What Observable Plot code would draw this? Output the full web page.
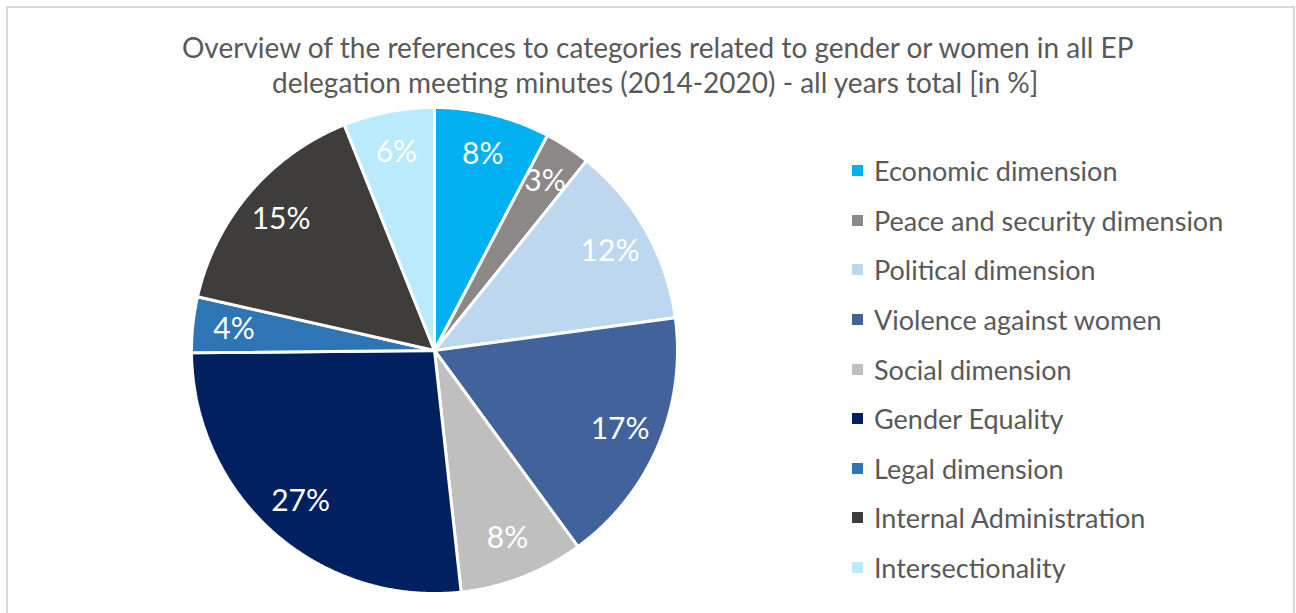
<!DOCTYPE html>
<html><head><meta charset="utf-8">
<script src="https://cdn.jsdelivr.net/npm/d3@7"></script>
<script src="https://cdn.jsdelivr.net/npm/@observablehq/plot@0.6"></script>
<style>
body{margin:0;background:#fff;width:1296px;height:613px;overflow:hidden;position:relative;font-family:Lato,"Open Sans",sans-serif;}
#frame{position:absolute;left:6px;top:6px;width:1289px;height:640px;border:2px solid #d9d9d9;box-sizing:border-box;}
.t{position:absolute;white-space:nowrap;color:#595959;font-size:28px;line-height:1;}
#pie{position:absolute;left:174px;top:90px;}
#legend{position:absolute;left:852px;top:146px;}
.row{display:flex;align-items:center;height:49.6px;white-space:nowrap;color:#595959;font-size:27px;}
.sw{width:11px;height:11px;margin-right:11px;flex:none;}
</style></head>
<body>
<div id="frame"></div>
<div class="t" style="left:182px;top:33px">Overview of the references to categories related to gender or women in all EP</div>
<div class="t" style="left:272px;top:68px">delegation meeting minutes (2014-2020) - all years total [in %]</div>
<div id="pie"></div>
<div id="legend"></div>
<script>
const categories = ["Economic dimension","Peace and security dimension","Political dimension","Violence against women","Social dimension","Gender Equality","Legal dimension","Internal Administration","Intersectionality"];
const shares = [7.7, 3.05, 12.1, 17.1, 8.3, 26.6, 3.7, 15.4, 6.05];
const colors = ["#00B0F0","#8C8888","#BDD7EE","#42629B","#BFBFBF","#002060","#2E75B6","#3F3D3B","#B9EBFD"];

const total = d3.sum(shares);
const pie = d3.pie().sort(null).value(d => d)(shares);
const rows = [];
const labels = [];
pie.forEach((p, i) => {
  const a0 = p.startAngle, a1 = p.endAngle;
  rows.push({cat: categories[i], x: 0, y: 0});
  const n = Math.max(2, Math.ceil((a1 - a0) / 0.005));
  for (let k = 0; k <= n; k++) {
    const a = a0 + (a1 - a0) * k / n;
    rows.push({cat: categories[i], x: Math.sin(a), y: Math.cos(a)});
  }
  rows.push({cat: categories[i], x: 0, y: 0});
  const m = (a0 + a1) / 2, r = 0.83;
  labels.push({cat: categories[i], x: r * Math.sin(m), y: r * Math.cos(m), text: Math.round(shares[i] / total * 100) + "%"});
});

const R = 260 / 243;
const chart = Plot.plot({
  width: 520, height: 520, margin: 0,
  x: {domain: [-R, R], axis: null},
  y: {domain: [-R, R], axis: null},
  color: {domain: categories, range: colors},
  style: {background: "transparent"},
  marks: [
    Plot.line(rows, {x: "x", y: "y", z: "cat", fill: "cat", stroke: "white", strokeWidth: 3, strokeLinejoin: "miter", curve: "linear"}),
    Plot.text(labels, {x: "x", y: "y", text: "text", fill: "white", fontSize: 30, fontFamily: "Lato, 'Open Sans', sans-serif"})
  ]
});
document.getElementById("pie").appendChild(chart);

const lg = document.getElementById("legend");
categories.forEach((c, i) => {
  const row = document.createElement("div");
  row.className = "row";
  const sw = document.createElement("span");
  sw.className = "sw";
  sw.style.background = colors[i];
  const tx = document.createElement("span");
  tx.textContent = c;
  row.appendChild(sw); row.appendChild(tx);
  lg.appendChild(row);
});
</script>
</body></html>
